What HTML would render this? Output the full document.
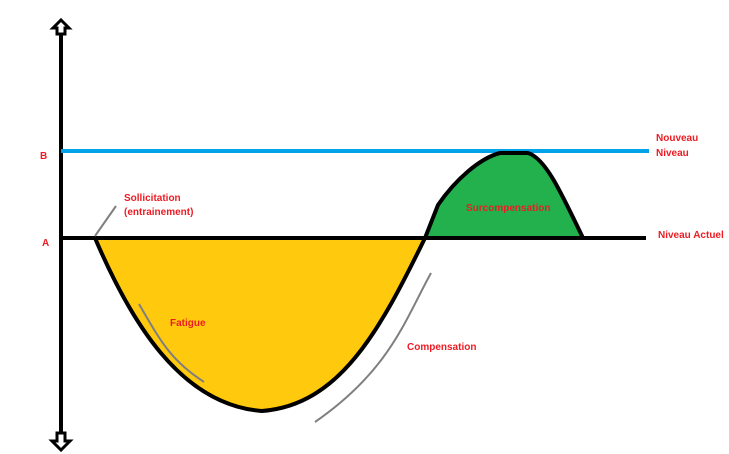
<!DOCTYPE html>
<html><head><meta charset="utf-8"><style>
html,body{margin:0;padding:0;background:#fff;}
svg{display:block;}
text{font-family:"Liberation Sans",sans-serif;font-weight:bold;font-size:10px;fill:#ed1c24;}
</style></head><body>
<svg width="729" height="454" viewBox="0 0 729 454">
<line x1="61" y1="33" x2="61" y2="436" stroke="#000" stroke-width="4"/>
<polygon points="61,20 69,28 65,28 65,34 57,34 57,28 53,28" fill="#fff" stroke="#000" stroke-width="3" stroke-linejoin="miter"/>
<polygon points="57,433 65,433 65,441 70,441 61,450 52,441 57,441" fill="#fff" stroke="#000" stroke-width="3"/>
<line x1="61" y1="151" x2="649" y2="151" stroke="#00a2e8" stroke-width="4"/>
<path d="M95,238 C130,320 180,405 262,411 C340,405 380,330 425,238 Z" fill="#ffc90e" stroke="#000" stroke-width="4" stroke-linejoin="round"/>
<path d="M425,238 L438,205 C455,180 480,158 500,153 L528,153 C545,158 560,190 583,238 Z" fill="#22b14c" stroke="#000" stroke-width="4" stroke-linejoin="round"/>
<line x1="61" y1="238" x2="646" y2="238" stroke="#000" stroke-width="4"/>
<line x1="95" y1="236" x2="116" y2="206" stroke="#7f7f7f" stroke-width="2"/>
<path d="M139,304 C160,340 170,360 204,382" fill="none" stroke="#7f7f7f" stroke-width="2"/>
<path d="M431,273 C405,320 390,370 315,422" fill="none" stroke="#7f7f7f" stroke-width="2"/>
<text x="40" y="159">B</text>
<text x="42" y="246">A</text>
<text x="124" y="201">Sollicitation</text>
<text x="124" y="215">(entrainement)</text>
<text x="170" y="326">Fatigue</text>
<text x="407" y="350">Compensation</text>
<text x="466" y="211">Surcompensation</text>
<text x="656" y="141">Nouveau</text>
<text x="656" y="156">Niveau</text>
<text x="658" y="238">Niveau Actuel</text>
</svg>
</body></html>
